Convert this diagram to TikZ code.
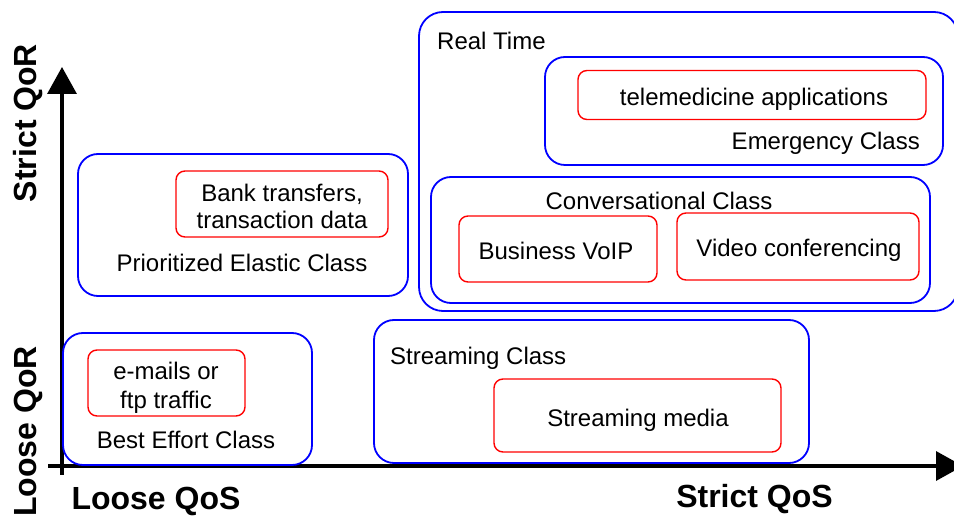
\documentclass[tikz,border=0pt]{standalone}
\usepackage{fontspec}
\setmainfont{Liberation Sans}
\usetikzlibrary{arrows.meta}
\tikzset{
  bluebox/.style={draw=blue, line width=1.8pt, rounded corners=20pt, inner sep=0pt},
  redbox/.style={draw=red, line width=1.4pt, rounded corners=9pt, inner sep=0pt},
  lbl/.style={inner sep=0pt, anchor=base, font=\fontsize{24}{28}\selectfont},
  axlbl/.style={inner sep=0pt, anchor=base, font=\fontsize{32}{36}\selectfont\bfseries},
  axis/.style={line width=3.5pt, -{Triangle[length=27pt, width=29pt]}}
}
\begin{document}
\begin{tikzpicture}[x=1pt,y=-1pt]
\useasboundingbox (0,0) rectangle (954,518);
% axes
\coordinate (o1) at (62,475);
\coordinate (ytop) at (62,67);
\coordinate (o2) at (48,466);
\coordinate (xend) at (963,466);
\draw[axis] (o1) -- (ytop);
\draw[axis] (o2) -- (xend);
% axis labels
\node[axlbl, rotate=90] (sqor) at (36,123) {Strict QoR};
\node[axlbl, rotate=90] (lqor) at (36,431.5) {Loose QoR};
\node[axlbl] (lqos) at (156,510) {Loose QoS};
\node[axlbl] (sqos) at (754.5,508) {Strict QoS};
% Prioritized Elastic
\node[bluebox, minimum width=330pt, minimum height=142pt] (pe) at (243,225) {};
\node[redbox, minimum width=212pt, minimum height=66pt] (bank) at (282,204) {};
\node[lbl] (bank1) at (282,201.5) {Bank transfers,};
\node[lbl] (bank2) at (282,228.5) {transaction data};
\node[lbl] (pel) at (242,272) {Prioritized Elastic Class};
% Real time
\node[bluebox, rounded corners=24pt, minimum width=539pt, minimum height=299pt] (rt) at (688.5,161.5) {};
\node[lbl, anchor=base west] (rtl) at (437,50) {Real Time};
\node[bluebox, minimum width=398pt, minimum height=108pt] (em) at (744,111) {};
\node[redbox, minimum width=348pt, minimum height=49pt] (tele) at (752,95) {};
\node[lbl] (telel) at (754,105.5) {telemedicine applications};
\node[lbl, anchor=base east] (eml) at (920,150) {Emergency Class};
\node[bluebox, minimum width=499pt, minimum height=126pt] (conv) at (680.5,240) {};
\node[lbl] (convl) at (659,210) {Conversational Class};
\node[redbox, minimum width=198pt, minimum height=66pt] (voip) at (558,249) {};
\node[lbl] (voipl) at (556,259.5) {Business VoIP};
\node[redbox, minimum width=242pt, minimum height=67pt] (video) at (798,246.5) {};
\node[lbl] (videol) at (799,257) {Video conferencing};
% Best effort
\node[bluebox, minimum width=249pt, minimum height=132pt] (be) at (187.5,399) {};
\node[redbox, minimum width=157pt, minimum height=66pt] (mail) at (166.5,383) {};
\node[lbl] (mail1) at (166,379.5) {e-mails or};
\node[lbl] (mail2) at (166,408.5) {ftp traffic};
\node[lbl] (bel) at (186,449) {Best Effort Class};
% Streaming
\node[bluebox, minimum width=435pt, minimum height=143pt] (st) at (591.5,391.5) {};
\node[lbl, anchor=base west] (stl) at (390,365) {Streaming Class};
\node[redbox, minimum width=287pt, minimum height=73pt] (media) at (637.5,415.5) {};
\node[lbl] (medial) at (638,426.5) {Streaming media};
\end{tikzpicture}
\end{document}
